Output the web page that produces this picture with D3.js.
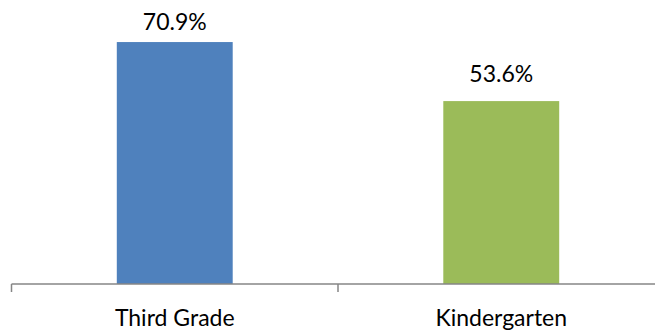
<!DOCTYPE html>
<html>
<head>
<meta charset="utf-8">
<script src="https://cdn.jsdelivr.net/npm/d3@7"></script>
<style>
  html, body { margin: 0; padding: 0; background: #fff; }
  svg { display: block; }
  text { font-family: Lato, "Open Sans", sans-serif; fill: #000; }
</style>
</head>
<body>
<svg id="chart" width="655" height="333"></svg>
<script>
// Share of students by grade level
const categories = ["Third Grade", "Kindergarten"];
const values = [70.9, 53.6];
const colors = ["#4F81BD", "#9BBB59"];

const width = 655, height = 333;
const plot = { left: 11.5, right: 664.5, top: 11, bottom: 284 };
// distance from bar top to its value label baseline
const labelGap = [12, 19];

const svg = d3.select("#chart");

// Category slots (axis ticks sit on their edges)
const slot = d3.scaleBand()
  .domain(categories)
  .range([plot.left, plot.right])
  .padding(0);

// Bars occupy the middle of each slot
const x = d3.scaleBand()
  .domain(categories)
  .range([plot.left, plot.right])
  .paddingInner(0.645)
  .paddingOuter(0.3225);

const y = d3.scaleLinear()
  .domain([0, 80])
  .range([plot.bottom, plot.top]);

// Bars
svg.append("g")
  .selectAll("rect")
  .data(categories)
  .join("rect")
  .attr("x", d => x(d))
  .attr("width", x.bandwidth())
  .attr("y", (d, i) => y(values[i]))
  .attr("height", (d, i) => y(0) - y(values[i]))
  .attr("fill", (d, i) => colors[i]);

// Value labels above bars
svg.append("g")
  .selectAll("text")
  .data(categories)
  .join("text")
  .attr("x", d => x(d) + x.bandwidth() / 2)
  .attr("y", (d, i) => y(values[i]) - labelGap[i])
  .attr("text-anchor", "middle")
  .style("font-size", "23px")
  .text((d, i) => values[i].toFixed(1) + "%");

// Category axis: baseline with ticks at slot boundaries
const axisG = svg.append("g");
const edges = [plot.left, ...categories.map(c => slot(c) + slot.bandwidth())];
axisG.append("line")
  .attr("x1", plot.left).attr("x2", plot.right)
  .attr("y1", y(0)).attr("y2", y(0))
  .attr("stroke", "#868686").attr("stroke-width", 1.5);
axisG.selectAll("line.tick")
  .data(edges)
  .join("line")
  .attr("class", "tick")
  .attr("x1", d => d).attr("x2", d => d)
  .attr("y1", y(0)).attr("y2", y(0) + 8)
  .attr("stroke", "#868686").attr("stroke-width", 1.5);

axisG.selectAll("text")
  .data(categories)
  .join("text")
  .attr("x", d => slot(d) + slot.bandwidth() / 2)
  .attr("y", 326)
  .attr("text-anchor", "middle")
  .style("font-size", "23px")
  .text(d => d);
</script>
</body>
</html>
